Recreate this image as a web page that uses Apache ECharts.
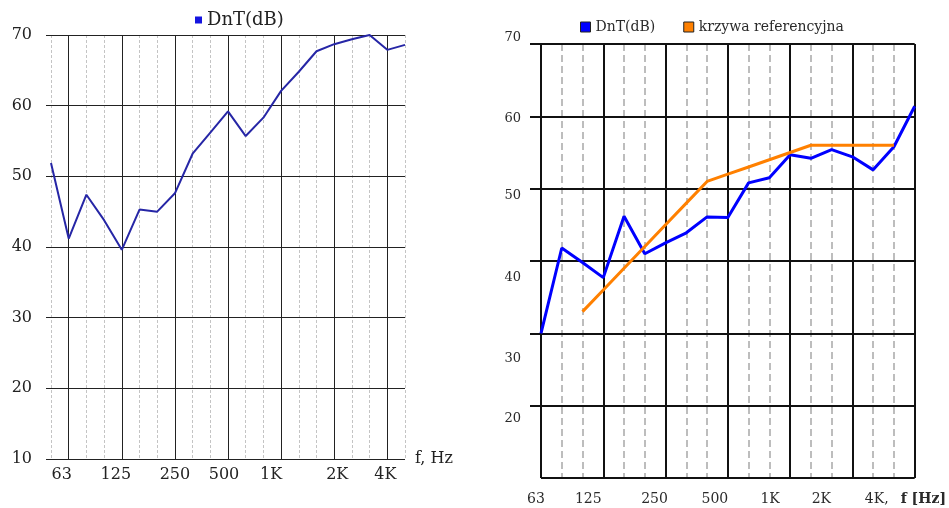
<!DOCTYPE html>
<html><head><meta charset="utf-8">
<script src="https://cdn.jsdelivr.net/npm/echarts@6/dist/echarts.min.js"></script>
<style>html,body{margin:0;padding:0;background:#fff}#c{width:949px;height:508px}</style>
</head><body><div id="c"></div>
<script>
// ---- data ----
const bandsLeft = ['50','63','80','100','125','160','200','250','315','400','500','630','800','1000','1250','1600','2000','2500','3150','4000','5000'];
const dntLeft = [51.9, 41.2, 47.4, 43.8, 39.6, 45.3, 45.0, 47.6, 53.2, 56.2, 59.2, 55.7, 58.3, 62.1, 64.8, 67.7, 68.7, 69.4, 70.0, 67.9, 68.6];
const bandsRight = ['63','80','100','125','160','200','250','315','400','500','630','800','1000','1250','1600','2000','2500','3150','4000'];
const dntRight = [30.0, 41.8, 39.8, 37.7, 46.2, 41.0, 42.5, 43.9, 46.1, 46.0, 50.8, 51.5, 54.7, 54.2, 55.4, 54.4, 52.6, 55.8, 61.4];
const refRight = [null, null, 33, 36, 39, 42, 45, 48, 51, 52, 53, 54, 55, 56, 56, 56, 56, 56, null];
const tickBands = ['63','125','250','500','1000','2000','4000'];
const tickLabelsLeft = ['63','125','250','500','1K','2K','4K'];
const tickLabelsRight = ['63','125','250','500','1K','2K','4K,'];
const yMin = 10, yMax = 70, yStep = 10;

// ---- style (label nudges in px, as printed in the source) ----
const leftLabelShift = [-7, -6, 0, -4, -10, 3, -2];
const rightLabelShift = [-5, -15, -11, -13, -20, -31, -38];
const rightYLabelShift = {70: -6, 60: 2, 50: 7, 40: 17, 30: 25, 20: 13};
const SERIF = 'DejaVu Serif';

function richX(shifts, font) {
  const r = {};
  shifts.forEach((s, i) => {
    r['t' + i] = Object.assign({}, font, {padding: s < 0 ? [0, -2 * s, 0, 0] : [0, 0, 0, 2 * s]});
  });
  return r;
}
function richY(map, font) {
  const r = {};
  Object.keys(map).forEach(k => {
    const d = map[k];
    r['y' + k] = Object.assign({}, font, {padding: d < 0 ? [0, 0, -2 * d, 0] : [2 * d, 0, 0, 0]});
  });
  return r;
}
const fontL = {fontFamily: SERIF, fontSize: 16, color: '#222'};
const fontRX = {fontFamily: SERIF, fontSize: 14, color: '#2a2a2a'};
const fontRY = {fontFamily: SERIF, fontSize: 13, color: '#2a2a2a'};

function labelFmt(labels) {
  return function (value) {
    const i = tickBands.indexOf(value);
    return i < 0 ? '' : '{t' + i + '|' + labels[i] + '}';
  };
}

const chart = echarts.init(document.getElementById('c'));
chart.setOption({
  animation: false,
  backgroundColor: '#fff',
  grid: [
    {left: 51, top: 35, width: 354, height: 424},
    {left: 541, top: 44, width: 378, height: 434}
  ],
  legend: [
    {
      left: 195, top: 11, padding: 0, icon: 'rect', itemWidth: 7, itemHeight: 7, selectedMode: false,
      data: [{name: 'DnT(dB)', itemStyle: {color: '#1414e0', borderWidth: 0}}],
      textStyle: {fontFamily: SERIF, fontSize: 18, color: '#222'}
    },
    {
      left: 580, top: 20, padding: 0, icon: 'rect', itemWidth: 10, itemHeight: 10, itemGap: 28, selectedMode: false,
      data: [
        {name: 'DnT(dB)', itemStyle: {color: '#0000ff', borderColor: '#222', borderWidth: 1}},
        {name: 'krzywa referencyjna', itemStyle: {color: '#ff8000', borderColor: '#222', borderWidth: 1}}
      ],
      textStyle: {fontFamily: SERIF, fontSize: 14, color: '#2a2a2a', padding: [0, 0, 6, 0]}
    }
  ],
  xAxis: [
    {
      gridIndex: 0, type: 'category', data: bandsLeft, boundaryGap: false, position: 'bottom',
      axisLine: {show: false}, axisTick: {show: false},
      axisLabel: {
        interval: (i, v) => tickBands.indexOf(v) >= 0, margin: 8,
        formatter: labelFmt(tickLabelsLeft), rich: richX(leftLabelShift, fontL)
      },
      splitLine: {show: true, interval: (i) => i % 3 === 1, lineStyle: {color: '#222', width: 1}},
      name: 'f, Hz', nameLocation: 'end', nameGap: 10,
      nameTextStyle: {fontFamily: SERIF, fontSize: 16, color: '#222', verticalAlign: 'middle', padding: [10, 0, 0, 0]}
    },
    {
      gridIndex: 0, type: 'category', data: bandsLeft, boundaryGap: false, position: 'bottom',
      axisLine: {show: false}, axisTick: {show: false}, axisLabel: {show: false},
      splitLine: {show: true, interval: (i) => i % 3 !== 1, lineStyle: {color: '#c4c4c4', width: 1, type: [3, 2]}}
    },
    {
      gridIndex: 1, type: 'category', data: bandsRight, boundaryGap: false, position: 'bottom',
      axisLine: {show: false}, axisTick: {show: false},
      axisLabel: {
        interval: (i, v) => tickBands.indexOf(v) >= 0, margin: 14,
        formatter: labelFmt(tickLabelsRight), rich: richX(rightLabelShift, fontRX)
      },
      splitLine: {show: true, interval: (i) => i % 3 === 0, lineStyle: {color: '#111', width: 2}},
      name: 'f [Hz]', nameLocation: 'end', nameGap: -14,
      nameTextStyle: {fontFamily: SERIF, fontSize: 14, fontWeight: 'bold', color: '#2a2a2a', verticalAlign: 'top', padding: [14, 0, 0, 0]}
    },
    {
      gridIndex: 1, type: 'category', data: bandsRight, boundaryGap: false, position: 'bottom',
      axisLine: {show: false}, axisTick: {show: false}, axisLabel: {show: false},
      splitLine: {show: true, interval: (i) => i % 3 !== 0, lineStyle: {color: '#bdbdbd', width: 2, type: [7, 4]}}
    }
  ],
  yAxis: [
    {
      gridIndex: 0, type: 'value', min: yMin, max: yMax, interval: yStep, z: 1,
      axisLine: {show: false},
      axisTick: {show: true, length: 5, lineStyle: {color: '#222', width: 1}},
      axisLabel: Object.assign({margin: 19}, fontL),
      splitLine: {show: true, lineStyle: {color: '#222', width: 1}}
    },
    {
      gridIndex: 1, type: 'value', min: yMin, max: yMax, interval: yStep, z: 1,
      axisLine: {show: false},
      axisTick: {show: true, length: 11, lineStyle: {color: '#111', width: 2}},
      axisLabel: {
        margin: 20, showMinLabel: false,
        formatter: v => '{y' + v + '|' + v + '}', rich: richY(rightYLabelShift, fontRY)
      },
      splitLine: {show: true, lineStyle: {color: '#111', width: 2}}
    }
  ],
  series: [
    {
      name: 'DnT(dB)', type: 'line', xAxisIndex: 0, yAxisIndex: 0, data: dntLeft,
      symbol: 'none', lineStyle: {color: '#2626a6', width: 2}, itemStyle: {color: '#2626a6'}, z: 3
    },
    {
      name: 'DnT(dB)', type: 'line', xAxisIndex: 2, yAxisIndex: 1, data: dntRight,
      symbol: 'none', lineStyle: {color: '#0000ff', width: 3}, itemStyle: {color: '#0000ff'}, z: 3
    },
    {
      name: 'krzywa referencyjna', type: 'line', xAxisIndex: 2, yAxisIndex: 1, data: refRight,
      symbol: 'none', connectNulls: false, lineStyle: {color: '#ff8000', width: 3}, itemStyle: {color: '#ff8000'}, z: 4
    }
  ]
});
</script>
</body></html>
